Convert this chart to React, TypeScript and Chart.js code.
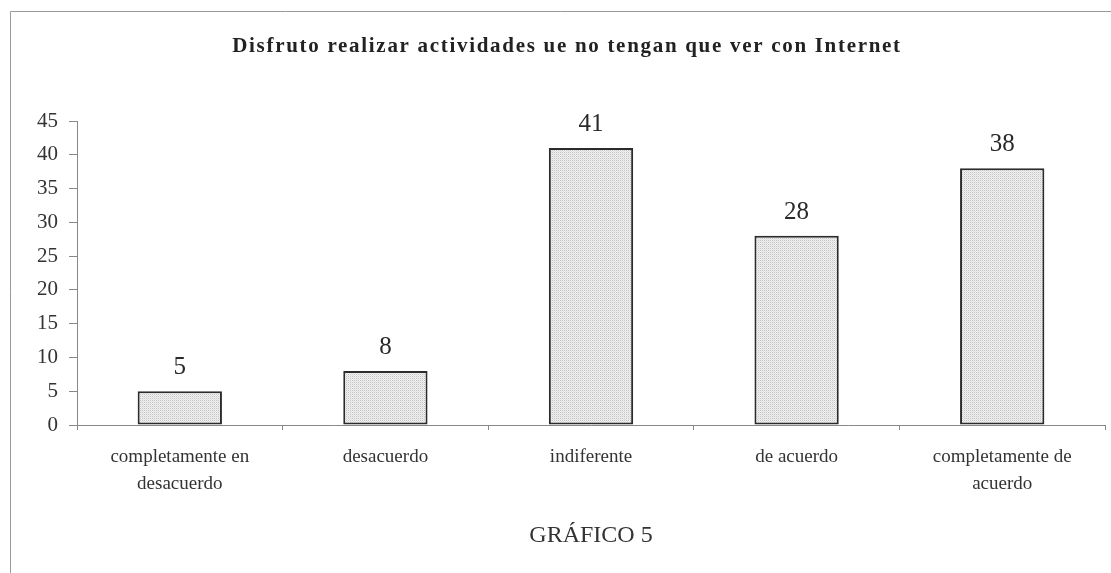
import React, { useEffect, useRef } from "react";
import { Chart, registerables } from "chart.js";

Chart.register(...registerables);

const categories: (string | string[])[] = [
  ["completamente en", "desacuerdo"],
  "desacuerdo",
  "indiferente",
  "de acuerdo",
  ["completamente de", "acuerdo"],
];
const values: number[] = [5, 8, 41, 28, 38];
const yTicks: number[] = [0, 5, 10, 15, 20, 25, 30, 35, 40, 45];
const titleText = "Disfruto realizar actividades ue no tengan que ver con Internet";
const xTitleText = "GRÁFICO 5";

const FONT = "'Liberation Serif', 'Times New Roman', serif";

function makePattern(): CanvasPattern | string {
  const c = document.createElement("canvas");
  c.width = 2;
  c.height = 2;
  const g = c.getContext("2d");
  if (!g) return "#e6e6e6";
  g.fillStyle = "#f1f1f1";
  g.fillRect(0, 0, 2, 2);
  g.fillStyle = "#c4c4c4";
  g.fillRect(0, 0, 1, 1);
  g.fillStyle = "#e0e0e0";
  g.fillRect(1, 1, 1, 1);
  const p = g.createPattern(c, "repeat");
  return p || "#e6e6e6";
}

const framePlugin = {
  id: "frame",
  beforeDraw(chart: any) {
    const ctx = chart.ctx;
    ctx.save();
    ctx.fillStyle = "#ffffff";
    ctx.fillRect(0, 0, chart.width, chart.height);
    ctx.strokeStyle = "#9a9a9a";
    ctx.lineWidth = 1;
    ctx.beginPath();
    ctx.moveTo(10.5, chart.height);
    ctx.lineTo(10.5, 11.5);
    ctx.lineTo(chart.width, 11.5);
    ctx.stroke();
    ctx.restore();
  },
  afterDraw(chart: any) {
    const ctx = chart.ctx;
    ctx.save();
    ctx.fillStyle = "#222";
    ctx.font = `bold 21px ${FONT}`;
    (ctx as any).letterSpacing = "1.7px";
    ctx.textAlign = "center";
    ctx.textBaseline = "middle";
    ctx.fillText(titleText, 567, 47);
    ctx.restore();
  },
};

const labelPlugin = {
  id: "valueLabels",
  afterDatasetsDraw(chart: any) {
    const ctx = chart.ctx;
    const meta = chart.getDatasetMeta(0);
    ctx.save();
    ctx.fillStyle = "#2a2a2a";
    ctx.font = `25px ${FONT}`;
    ctx.textAlign = "center";
    ctx.textBaseline = "bottom";
    meta.data.forEach((bar: any, i: number) => {
      ctx.fillText(String(values[i]), bar.x, bar.y - 11);
    });
    ctx.restore();
  },
};

export default function App() {
  const ref = useRef<HTMLCanvasElement | null>(null);
  useEffect(() => {
    if (!ref.current) return;
    const chart = new Chart(ref.current, {
      type: "bar",
      data: {
        labels: categories,
        datasets: [
          {
            data: values,
            backgroundColor: makePattern() as any,
            borderColor: "#2b2b2b",
            borderWidth: 2,
            borderSkipped: false,
            barPercentage: 0.41,
            categoryPercentage: 1,
          },
        ],
      },
      options: {
        animation: false,
        responsive: false,
        maintainAspectRatio: false,
        layout: { padding: { left: 0, right: 6, top: 121, bottom: 23 } },
        plugins: {
          legend: { display: false },
          tooltip: { enabled: false },
          title: { display: false },
        },
        scales: {
          x: {
            offset: true,
            grid: {
              display: true,
              offset: true,
              drawOnChartArea: false,
              drawTicks: true,
              tickLength: 5,
              color: "#888",
            },
            border: { display: true, color: "#888", width: 1 },
            ticks: {
              color: "#333",
              font: { family: FONT, size: 19, lineHeight: 1.4 },
              padding: 14,
              maxRotation: 0,
              autoSkip: false,
            },
            title: {
              display: true,
              text: xTitleText,
              color: "#333",
              font: { family: FONT, size: 24 },
              padding: { top: 10, bottom: 0 },
            },
          },
          y: {
            min: 0,
            max: 45,
            afterBuildTicks(scale: any) {
              scale.ticks = yTicks.map((v) => ({ value: v }));
            },
            afterFit(scale: any) {
              scale.width = 77;
            },
            grid: {
              display: true,
              drawOnChartArea: false,
              drawTicks: true,
              tickLength: 8,
              color: "#888",
            },
            border: { display: true, color: "#888", width: 1 },
            ticks: {
              color: "#333",
              font: { family: FONT, size: 21 },
              padding: 11,
            },
          },
        },
      },
      plugins: [framePlugin, labelPlugin],
    });
    return () => chart.destroy();
  }, []);
  return (
    <div style={{ position: "absolute", left: 0, top: 0, width: 1111, height: 573 }}>
      <canvas ref={ref} width={1111} height={573} style={{ display: "block" }} />
    </div>
  );
}
